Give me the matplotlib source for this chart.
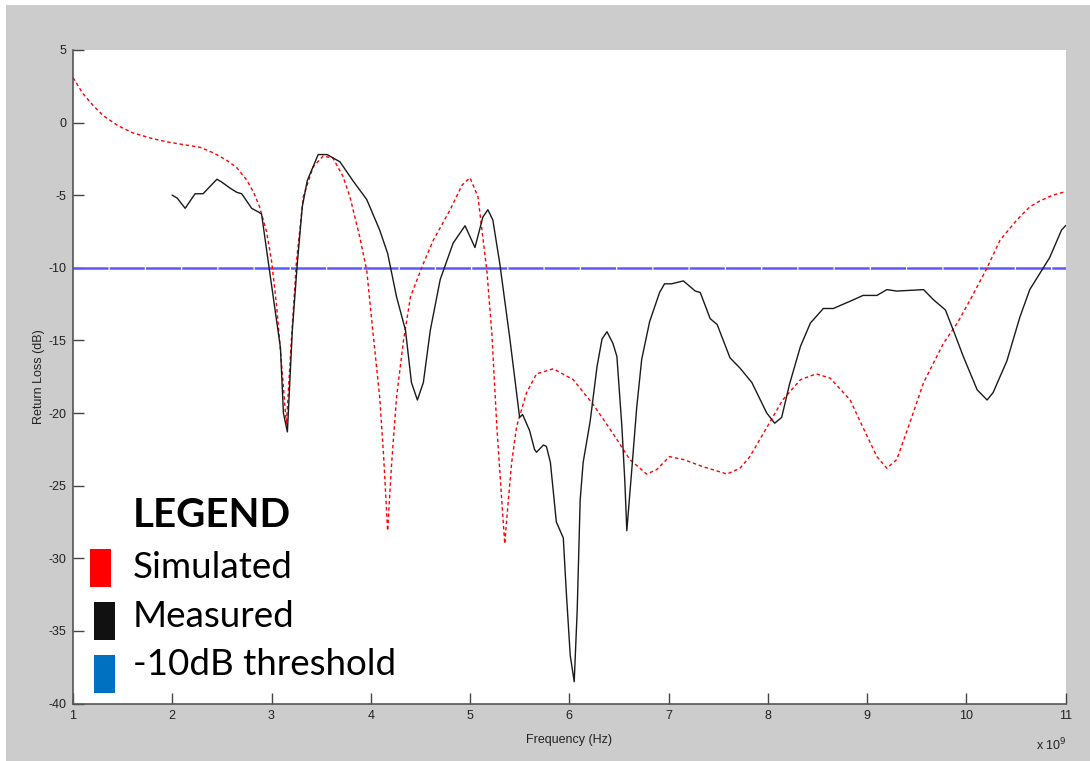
import matplotlib
matplotlib.use("Agg")
import matplotlib.pyplot as plt
from matplotlib.patches import Rectangle

# ---- data ----
sim_f = [1.0, 1.1, 1.2, 1.3, 1.45, 1.6, 1.8, 1.95, 2.1, 2.28, 2.42, 2.55, 2.65, 2.75, 2.82, 2.88,
         2.95, 3.0, 3.05, 3.1, 3.15, 3.2, 3.25, 3.32, 3.42, 3.52, 3.62, 3.72, 3.79, 3.89, 3.96,
         4.02, 4.09, 4.13, 4.17, 4.21, 4.26, 4.33, 4.4, 4.53, 4.63, 4.8, 4.92, 5.0, 5.08, 5.17,
         5.22, 5.27, 5.32, 5.35, 5.38, 5.42, 5.47, 5.57, 5.67, 5.84, 6.04, 6.24, 6.44, 6.61, 6.78,
         6.88, 7.01, 7.15, 7.35, 7.59, 7.72, 7.82, 7.99, 8.15, 8.33, 8.49, 8.63, 8.83, 8.96, 9.1,
         9.2, 9.3, 9.43, 9.57, 9.77, 9.91, 10.04, 10.21, 10.34, 10.51, 10.64, 10.74, 10.87, 11.0]
sim_db = [3.1, 2.0, 1.2, 0.5, -0.2, -0.7, -1.1, -1.33, -1.5, -1.7, -2.1, -2.6, -3.1, -3.95, -4.8, -5.8,
          -7.5, -9.5, -12.5, -16.5, -20.8, -15.0, -9.7, -5.1, -3.05, -2.3, -2.45, -3.7, -5.1, -7.9, -10.2,
          -14.3, -18.9, -23.0, -28.1, -23.5, -18.9, -15.0, -12.0, -9.7, -8.1, -6.0, -4.3, -3.8, -5.1, -10.2,
          -14.5, -20.9, -26.0, -29.0, -26.5, -23.4, -20.9, -18.6, -17.3, -16.95, -17.7, -19.4, -21.4, -23.2, -24.2,
          -23.9, -23.0, -23.2, -23.7, -24.2, -23.8, -23.0, -21.0, -19.1, -17.7, -17.3, -17.6, -19.1, -21.0, -23.0,
          -23.8, -23.2, -20.7, -17.9, -15.2, -13.8, -12.2, -10.0, -8.1, -6.7, -5.8, -5.4, -5.0, -4.75]

meas_f = [2.0, 2.05, 2.13, 2.23, 2.31, 2.45, 2.5, 2.58, 2.65, 2.7, 2.8, 2.88, 2.9, 2.98, 3.09, 3.12,
          3.16, 3.21, 3.26, 3.31, 3.36, 3.47, 3.56, 3.69, 3.82, 3.96, 4.09, 4.17, 4.26, 4.35, 4.41,
          4.47, 4.53, 4.6, 4.7, 4.83, 4.95, 5.05, 5.13, 5.18, 5.23, 5.3, 5.4, 5.5, 5.53, 5.6, 5.65,
          5.67, 5.74, 5.77, 5.81, 5.87, 5.94, 5.97, 6.01, 6.05, 6.08, 6.11, 6.14, 6.21, 6.28, 6.33,
          6.38, 6.44, 6.48, 6.53, 6.56, 6.58, 6.63, 6.68, 6.73, 6.81, 6.91, 6.96, 7.03, 7.15, 7.27,
          7.32, 7.42, 7.49, 7.62, 7.72, 7.84, 7.99, 8.07, 8.14, 8.22, 8.33, 8.43, 8.56, 8.66, 8.83,
          8.96, 9.1, 9.2, 9.3, 9.57, 9.67, 9.79, 9.87, 9.97, 10.11, 10.21, 10.27, 10.41, 10.54, 10.64,
          10.84, 10.96, 11.0]
meas_db = [-5.0, -5.2, -5.9, -4.9, -4.9, -3.9, -4.1, -4.5, -4.8, -4.9, -5.9, -6.2, -6.3, -10.2, -15.5, -20.0,
           -21.3, -14.3, -9.7, -5.8, -4.0, -2.2, -2.2, -2.7, -4.0, -5.3, -7.4, -9.0, -12.0, -14.3, -17.9,
           -19.1, -17.9, -14.3, -10.8, -8.3, -7.1, -8.6, -6.5, -6.0, -6.7, -9.7, -14.8, -20.3, -20.1, -21.2, -22.5,
           -22.7, -22.2, -22.3, -23.4, -27.5, -28.6, -32.3, -36.7, -38.5, -33.6, -26.0, -23.4, -20.6, -16.8, -14.9,
           -14.4, -15.2, -16.1, -20.9, -24.7, -28.1, -23.9, -19.6, -16.3, -13.7, -11.7, -11.1, -11.1, -10.9, -11.6,
           -11.7, -13.5, -13.9, -16.2, -16.9, -17.9, -20.0, -20.7, -20.3, -18.0, -15.4, -13.8, -12.8, -12.8, -12.3,
           -11.9, -11.9, -11.5, -11.6, -11.5, -12.2, -12.9, -14.3, -16.1, -18.4, -19.1, -18.6, -16.4, -13.4, -11.5,
           -9.3, -7.4, -7.1]

threshold_db = -10
x_ticks = [1, 2, 3, 4, 5, 6, 7, 8, 9, 10, 11]
y_ticks = [5, 0, -5, -10, -15, -20, -25, -30, -35, -40]
legend_labels = ["Simulated", "Measured", "-10dB threshold"]
legend_colors = ["#ff0000", "#111111", "#0070c0"]

# ---- figure ----
W, H = 1090, 761
fig = plt.figure(figsize=(W / 100, H / 100), dpi=100, facecolor="white")
fig.patches.append(Rectangle((6 / W, 0), 1 - 6 / W, 1 - 5 / H, transform=fig.transFigure,
                             facecolor="#cccccc", edgecolor="none", zorder=-10))

ax = fig.add_axes([73 / W, 1 - 703.5 / H, (1065.5 - 73) / W, (703.5 - 50) / H])
ax.set_facecolor("white")

ax.plot(sim_f, sim_db, color="#ff0000", lw=1.0, dashes=(2.5, 2), zorder=3)
ax.plot(meas_f, meas_db, color="#1a1a1a", lw=1.0, zorder=4)
ax.axhline(threshold_db, color="#5a5aff", lw=1.8, dashes=(14, 0.5), zorder=2)

ax.set_xlim(1, 11)
ax.set_ylim(-40, 5)
ax.set_xticks(x_ticks)
ax.set_yticks(y_ticks)
tick_font = ["Liberation Sans Narrow", "Liberation Sans", "DejaVu Sans"]
ax.set_xticklabels([str(t) for t in x_ticks], family=tick_font, fontsize=9, color="#222222")
ax.set_yticklabels([str(t) for t in y_ticks], family=tick_font, fontsize=9, color="#222222")
ax.tick_params(direction="in", length=8, width=1, color="#444444", pad=5)
for s in ["top", "right"]:
    ax.spines[s].set_visible(False)
for s in ["left", "bottom"]:
    ax.spines[s].set_color("#555555")
    ax.spines[s].set_linewidth(1.2)

ax.set_xlabel("Frequency (Hz)", family=tick_font, fontsize=9, color="#222222", labelpad=8)
ax.set_ylabel("Return Loss (dB)", family=tick_font, fontsize=9, color="#222222", labelpad=2)
fig.text(1036 / W, 1 - 750 / H, r"x 10$^{9}$", family=tick_font, fontsize=9, color="#222222",
         ha="left", va="baseline")

# ---- custom legend ----
fig.text(133 / W, 1 - 527 / H, "LEGEND", family=["Lato", "DejaVu Sans"], fontweight="bold",
         fontsize=29, color="black", ha="left", va="baseline")
rects = [(90, 549, 111, 587), (94, 602, 115, 640), (94, 655, 115, 693)]
baselines = [578, 627, 675]
for (x0, y0, x1, y1), lab, col, bl in zip(rects, legend_labels, legend_colors, baselines):
    fig.patches.append(Rectangle((x0 / W, 1 - y1 / H), (x1 - x0) / W, (y1 - y0) / H,
                                 transform=fig.transFigure, facecolor=col, edgecolor="none"))
    fig.text(133 / W, 1 - bl / H, lab, family=["Lato", "DejaVu Sans"], fontsize=26.5,
             color="black", ha="left", va="baseline")

fig.savefig("out.png", dpi=100, facecolor=fig.get_facecolor())
